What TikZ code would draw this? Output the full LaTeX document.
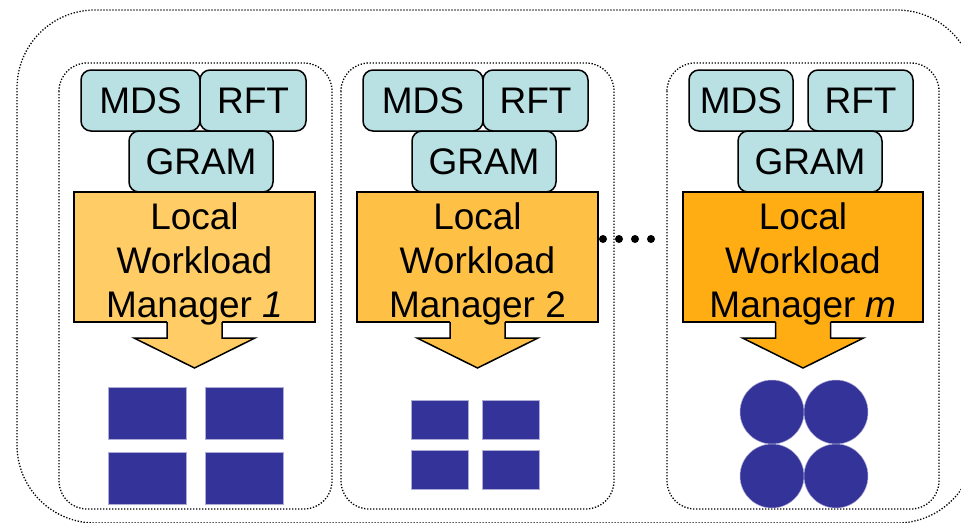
\documentclass[tikz,border=0pt]{standalone}
\usepackage{fontspec}
\setmainfont{Liberation Sans}
\usepackage{xcolor}
\usepackage{tikz}
\usetikzlibrary{calc}
\definecolor{svcblue}{HTML}{B9E0E3}
\definecolor{lwmA}{HTML}{FFCC66}
\definecolor{lwmB}{HTML}{FFC145}
\definecolor{lwmC}{HTML}{FFAD12}
\definecolor{jobblue}{HTML}{333399}
% block arrow under a workload manager box
\newcommand{\WArrow}[2]{%
  \fill[#2] ($(#1.south)+(-27.5,-3)$) -- ++(0,19) -- ++(-33,0) -- ($(#1.south)+(0,46)$)
     -- ($(#1.south)+(60.5,16)$) -- ++(-33,0) -- ++(0,-19) -- cycle;
  \draw[line width=1.5pt,line join=miter] ($(#1.south)+(-27.5,0)$) -- ++(0,16) -- ++(-33,0)
     -- ($(#1.south)+(0,46)$) -- ($(#1.south)+(60.5,16)$) -- ++(-33,0) -- ++(0,-16);
}

\begin{document}
\begin{tikzpicture}[x=1pt,y=-1pt,
    font=\fontsize{37}{44}\selectfont,
    svc/.style={draw,line width=1.5pt,fill=svcblue,rounded corners=10pt,
      minimum height=61pt,inner sep=0pt,outer sep=0pt},
    lwm/.style={draw,line width=1.5pt,minimum width=241pt,minimum height=130pt,
      inner sep=0pt,outer sep=0pt},
    lwmtext/.style={align=center,inner sep=0pt},
    panel/.style={line width=1.3pt,dash pattern=on 1.3pt off 1.7pt,rounded corners=28pt},
    job/.style={fill=jobblue,draw=jobblue!40,line width=0.5pt}]
  \useasboundingbox (0,0) rectangle (961,522);
  \clip (0,0) rectangle (961,522);

  % outer and inner dotted frames
  \draw[panel,rounded corners=78pt] (17,10) rectangle (975,523);
  \draw[panel] (59,63) rectangle (332,509);
  \draw[panel] (341,63) rectangle (614,509);
  \draw[panel] (667,63) rectangle (939,509);

  % site 1
  \node[svc,minimum width=119pt] (mds1) at (140.5,100.5) {MDS};
  \node[svc,minimum width=106pt] (rft1) at (253,100.5) {RFT};
  \node[svc,minimum width=144pt] (gram1) at (201,161.5) {GRAM};
  \node[lwm,fill=lwmA] (lwm1) at (194.5,257) {};
  \WArrow{lwm1}{lwmA}
  \node[lwmtext] (lwm1t) at ($(lwm1.center)+(0,7)$) {Local\\Workload\\Manager \textit{1}};

  % site 2
  \node[svc,minimum width=120pt] (mds2) at (423,100.5) {MDS};
  \node[svc,minimum width=105pt] (rft2) at (535.5,100.5) {RFT};
  \node[svc,minimum width=144pt] (gram2) at (484,161.5) {GRAM};
  \node[lwm,fill=lwmB] (lwm2) at (477.5,257) {};
  \WArrow{lwm2}{lwmB}
  \node[lwmtext] (lwm2t) at ($(lwm2.center)+(0,7)$) {Local\\Workload\\Manager 2};

  % site m
  \node[svc,minimum width=104pt] (mds3) at (741,100.5) {MDS};
  \node[svc,minimum width=105pt] (rft3) at (860.5,100.5) {RFT};
  \node[svc,minimum width=144pt] (gram3) at (810,161.5) {GRAM};
  \node[lwm,fill=lwmC,minimum width=240pt] (lwm3) at (803,257) {};
  \WArrow{lwm3}{lwmC}
  \node[lwmtext] (lwm3t) at ($(lwm3.center)+(0,7)$) {Local\\Workload\\Manager \textit{m}};

  % resources
  \foreach \x in {108,205} \foreach \y in {387,452}
    \fill[job] (\x,\y) rectangle ++(78,52);
  \foreach \x in {411,482} \foreach \y in {400,450}
    \fill[job] (\x,\y) rectangle ++(57,39);
  \foreach \x in {772,836} \foreach \y in {412,476}
    \fill[job] (\x,\y) circle (32);

  % more sites
  \foreach \x in {603,619,635,651}
    \fill (\x,239) circle (4);
\end{tikzpicture}
\end{document}
